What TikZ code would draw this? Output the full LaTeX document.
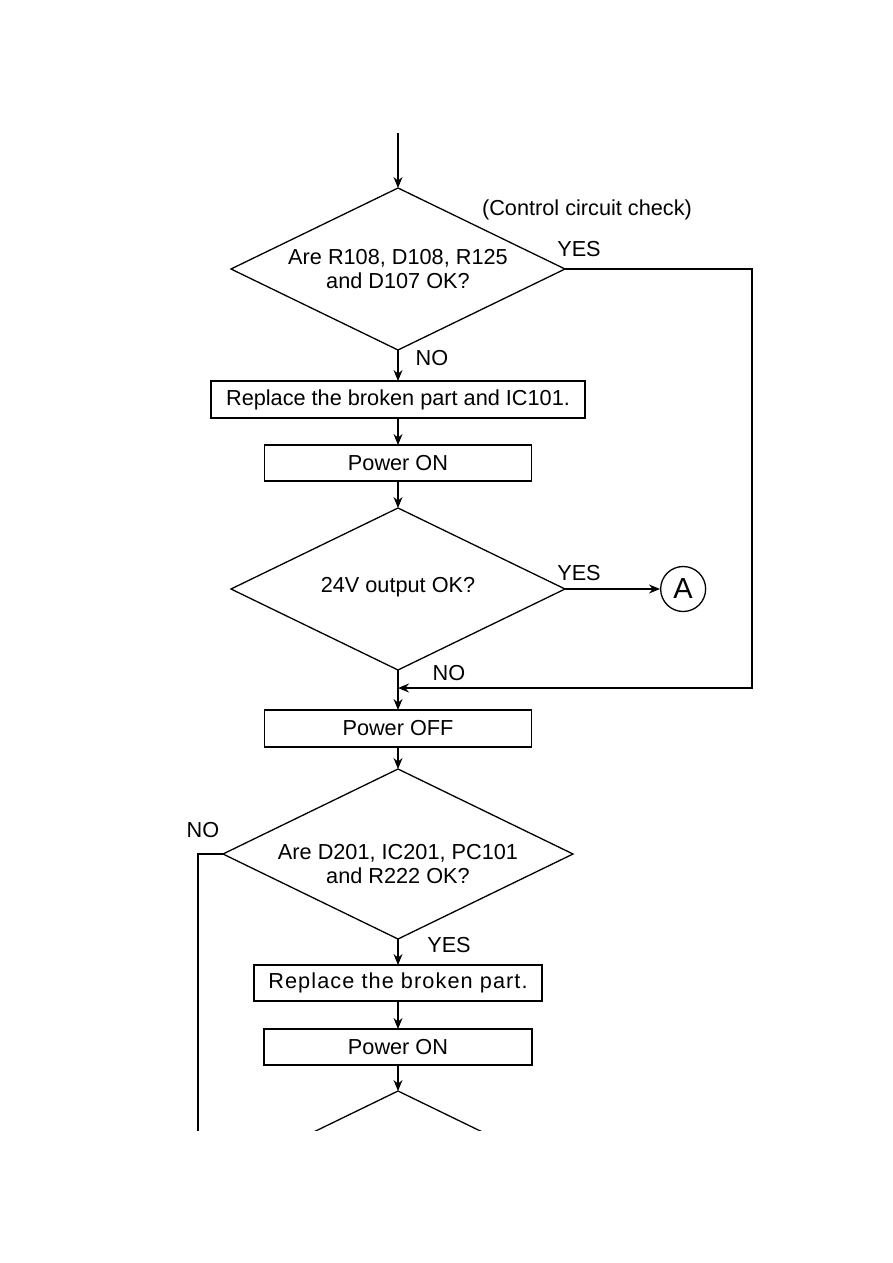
\documentclass[tikz,border=0pt]{standalone}
\usepackage{fontspec}
\setmainfont{Liberation Sans}
\usetikzlibrary{arrows.meta, positioning, shapes.geometric}

\begin{document}
\begin{tikzpicture}[
  x=1pt, y=1pt,
  every node/.style={font=\fontsize{21.7pt}{24pt}\selectfont},
  >={Stealth[length=11pt,width=9pt]},
  line width=1.3pt,
  arrow/.style={->},
  box/.style={draw, rectangle, inner sep=0pt, outer sep=0pt, minimum height=36pt},
  decision/.style={draw, diamond, aspect=2.06, inner sep=0pt, outer sep=0pt, align=center,
    minimum width=334pt, minimum height=162pt},
  lbl/.style={inner sep=0pt}
]
\useasboundingbox (0,0) rectangle (893,-1263);
\clip (0,0) rectangle (893,-1130);

% Control circuit check
\coordinate (in) at (398,-133);
\node [decision] (chk1) at (398,-269) {Are R108, D108, R125\\and D107 OK?};
\node [box, below=31pt of chk1, minimum width=374pt, minimum height=37pt] (repl1) {Replace the broken part and IC101.};
\node [box, below=27pt of repl1, minimum width=267pt] (pwron1) {Power ON};
\node [decision, below=27pt of pwron1] (out24) {\raisebox{-3pt}[0pt][0pt]{24V output OK?}};
\node [draw, circle, inner sep=0pt, minimum size=45pt, right=95pt of out24.east, anchor=west,
  font=\fontsize{29pt}{30pt}\selectfont] (goA) {A};
\node [box, below=40pt of out24, minimum width=267pt, minimum height=37pt] (pwroff) {Power OFF};

\draw[arrow] (in) -- (chk1);
\draw[arrow] (chk1) -- (repl1);
\draw[arrow] (repl1) -- (pwron1);
\draw[arrow] (pwron1) -- (out24);
\draw[arrow] (out24) -- (goA);
\draw[arrow] (out24) -- (pwroff);

% YES loop back
\coordinate (loop) at (752,-269);
\coordinate (join) at (398,-688);
\draw[arrow] (chk1.east) -- (loop) |- (join);

\node [lbl] (ctrl) at (587,-210) {(Control circuit check)};
\node [lbl] (yes1) at (579,-249) {YES};
\node [lbl] (no1) at (432,-358) {NO};
\node [lbl] (yes2) at (579,-573) {YES};
\node [lbl] (no2) at (449,-673) {NO};

% Second check
\node [decision, below=22pt of pwroff, minimum width=350pt, minimum height=170pt] (chk2)
  {\raisebox{-5pt}[0pt][0pt]{\begin{tabular}[t]{@{}c@{}}Are D201, IC201, PC101\\and R222 OK?\end{tabular}}};
\node [box, below=26pt of chk2, minimum width=288pt] (repl2) {\addfontfeatures{LetterSpace=5}Replace the broken part.};
\node [box, below=28pt of repl2, minimum width=268pt] (pwron2) {Power ON};
\node [decision, below=26pt of pwron2, minimum width=350pt, minimum height=170pt] (chk3) {};

\draw[arrow] (pwroff) -- (chk2);
\draw[arrow] (chk2) -- (repl2);
\draw[arrow] (repl2) -- (pwron2);
\draw[arrow] (pwron2) -- (chk3);

\coordinate (down) at (198,-1140);
\draw (chk2.west) -| (down);

\node [lbl] (no3) at (203,-830) {NO};
\node [lbl] (yes3) at (449,-945) {YES};
\end{tikzpicture}
\end{document}
